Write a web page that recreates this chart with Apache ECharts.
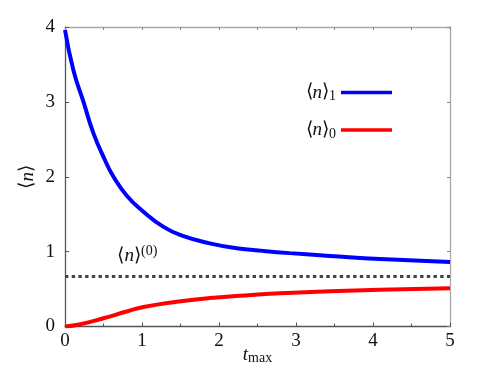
<!DOCTYPE html>
<html>
<head>
<meta charset="utf-8">
<script src="https://cdn.jsdelivr.net/npm/echarts@6/dist/echarts.min.js"></script>
<style>
  html, body { margin: 0; padding: 0; background: #fff; }
  #chart { width: 498px; height: 367px; }
</style>
</head>
<body>
<div id="chart"></div>
<script>
// values
const tBlue = [0, 0.11, 0.24, 0.37, 0.52, 0.63, 0.8, 1.0, 1.28, 1.53, 1.88, 2.23, 2.57, 2.92, 3.44, 4.09, 5];
const nBlue = [3.96, 3.42, 3.0, 2.58, 2.22, 2.0, 1.75, 1.55, 1.33, 1.21, 1.11, 1.045, 1.01, 0.98, 0.943, 0.90, 0.862];
const tRed = [0, 0.2, 0.5, 0.8, 1.02, 1.45, 1.88, 2.27, 2.79, 3.44, 4.09, 5];
const nRed = [0, 0.03, 0.11, 0.2, 0.26, 0.33, 0.38, 0.41, 0.443, 0.47, 0.49, 0.51];
const tRef = [0, 5];
const nRef = [0.667, 0.667];
const refLabelAt = [0.94, 0.94];

const serif = "serif";
const pairs = (xs, ys) => xs.map((x, i) => [x, ys[i]]);

const chart = echarts.init(document.getElementById("chart"));

const mathRich = {
  b: { fontFamily: serif, fontSize: 19, color: "#111" },
  i: { fontFamily: serif, fontSize: 19, fontStyle: "italic", color: "#111" },
  sub: { fontFamily: serif, fontSize: 14, color: "#111", padding: [8, 0, 0, 0] },
  sup: { fontFamily: serif, fontSize: 14, color: "#111", padding: [0, 0, 10, 0] },
};

const frameAxis = (color) => ({
  axisLine: { show: true, onZero: false, lineStyle: { color, width: 1.3 } },
  splitLine: { show: false },
});

chart.setOption({
  animation: false,
  grid: { left: 65, right: 48, top: 27, bottom: 40.5, outerBoundsMode: "none" },
  legend: {
    orient: "vertical",
    right: 101,
    top: 78,
    align: "right",
    icon: "rect",
    itemWidth: 51,
    itemHeight: 3.5,
    itemGap: 17,
    data: ["n1", "n0"],
    formatter: (name) => "{b|\u27E8}{i|n}{b|\u27E9}{sub|" + name.slice(1) + "}",
    textStyle: { rich: mathRich },
  },
  xAxis: [
    {
      type: "value",
      min: 0,
      max: 5,
      interval: 1,
      name: "{i|t}{sub|max}",
      nameLocation: "middle",
      nameGap: 17,
      nameMoveOverlap: false,
      nameTextStyle: { rich: mathRich },
      ...frameAxis("#555"),
      axisTick: { inside: true, length: 4, lineStyle: { color: "#555" } },
      minorTick: { show: true, splitNumber: 2, length: 3, lineStyle: { color: "#555" } },
      axisLabel: { fontFamily: serif, fontSize: 19, color: "#111", margin: 5 },
    },
    {
      type: "value",
      position: "top",
      min: 0,
      max: 5,
      interval: 0.5,
      ...frameAxis("#aaa"),
      axisTick: { inside: true, length: 3, lineStyle: { color: "#888" } },
      axisLabel: { show: false },
    },
  ],
  yAxis: [
    {
      type: "value",
      min: 0,
      max: 4,
      interval: 1,
      name: "{b|\u27E8}{i|n}{b|\u27E9}",
      nameLocation: "middle",
      nameGap: 28,
      nameMoveOverlap: false,
      nameRotate: 90,
      nameTextStyle: { rich: mathRich },
      ...frameAxis("#555"),
      axisTick: { show: true, inside: true, length: 4, lineStyle: { color: "#555" } },
      axisLabel: { fontFamily: serif, fontSize: 19, color: "#111", margin: 10 },
    },
    {
      type: "value",
      position: "right",
      min: 0,
      max: 4,
      interval: 1,
      ...frameAxis("#aaa"),
      axisTick: { show: true, inside: true, length: 3, lineStyle: { color: "#888" } },
      axisLabel: { show: false },
    },
  ],
  series: [
    {
      name: "ref",
      type: "line",
      data: pairs(tRef, nRef),
      symbol: "none",
      lineStyle: { color: "#444", width: 3, type: [3.4, 3.3] },
      markPoint: {
        symbol: "circle",
        symbolSize: 0,
        data: [{ coord: refLabelAt }],
        label: {
          show: true,
          position: "inside",
          formatter: "{b|\u27E8}{i|n}{b|\u27E9}{sup|(0)}",
          rich: mathRich,
        },
      },
      z: 1,
    },
    {
      name: "n1",
      type: "line",
      data: pairs(tBlue, nBlue),
      smooth: 0.5,
      symbol: "none",
      lineStyle: { color: "#0000ff", width: 4 },
      itemStyle: { color: "#0000ff" },
      z: 3,
    },
    {
      name: "n0",
      type: "line",
      data: pairs(tRed, nRed),
      smooth: 0.5,
      symbol: "none",
      lineStyle: { color: "#ff0000", width: 4 },
      itemStyle: { color: "#ff0000" },
      z: 3,
    },
  ],
});
</script>
</body>
</html>
